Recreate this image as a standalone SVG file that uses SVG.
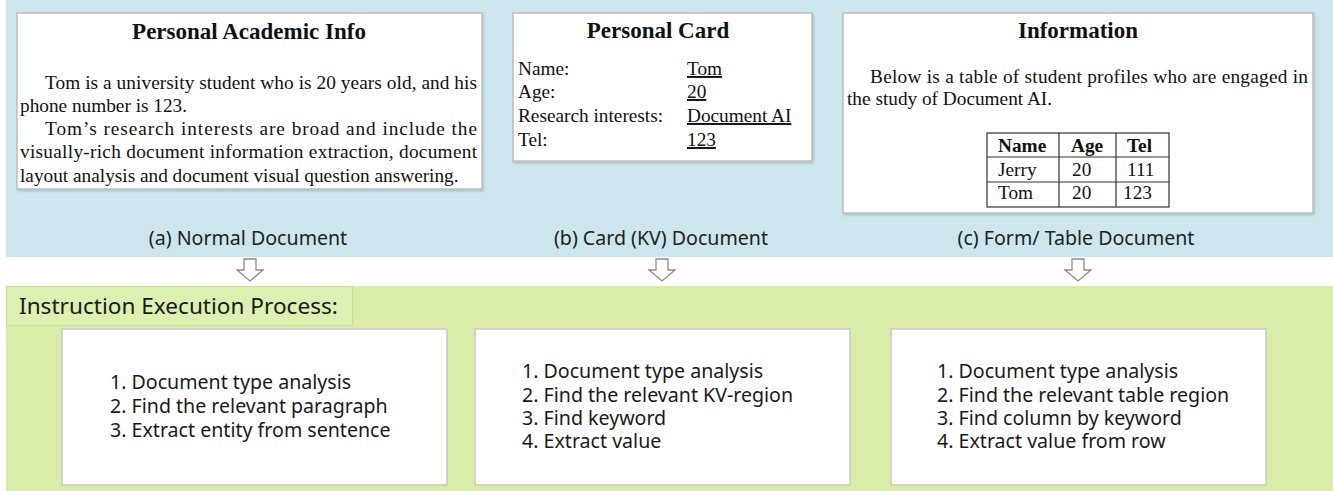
<svg xmlns="http://www.w3.org/2000/svg" width="1333" height="491" viewBox="0 0 1333 491">
<style>
.doc{fill:#fff;stroke:#bdbdbd;stroke-width:1.5}
.serif{font-family:"Liberation Serif","Times New Roman",serif;fill:#111}
.ttl{font-size:23px;font-weight:bold;text-anchor:middle}
.p{font-size:19.3px}
.lab{font-family:"Noto Sans","Open Sans",sans-serif;font-size:19.6px;fill:#222;text-anchor:middle}
.step{font-family:"Noto Sans","Open Sans",sans-serif;font-size:19.6px;fill:#1a1a1a}
.ibox{fill:#fff;stroke:#c8c8c8;stroke-width:1.5}
.arrow{fill:#fff;stroke:#8a8a8a;stroke-width:1.3}
.tb{fill:none;stroke:#333;stroke-width:1.2}
.u{text-decoration:underline}
</style>
<defs>
<filter id="sh" x="-5%" y="-5%" width="110%" height="115%">
<feDropShadow dx="1" dy="1.5" stdDeviation="0.8" flood-color="#000" flood-opacity="0.18"/>
</filter>
<path id="arr" d="M-6,0 H6 V11 H13 L0,22 L-13,11 H-6 Z"/>
</defs>
<rect x="0" y="0" width="1333" height="491" fill="#fff"/>
<rect id="topband" x="6" y="0" width="1327" height="257" fill="#cde6ed"/>
<rect id="bottomband" x="6" y="286" width="1327" height="205" fill="#d9eda9"/>

<g id="doc-a">
<rect class="doc" x="17" y="13" width="465" height="176" filter="url(#sh)"/>
<text class="serif ttl" x="249" y="39">Personal Academic Info</text>
<text class="serif p" x="45" y="89" textLength="432" lengthAdjust="spacing">Tom is a university student who is 20 years old, and his</text>
<text class="serif p" x="20" y="112">phone number is 123.</text>
<text class="serif p" x="45" y="135" textLength="432" lengthAdjust="spacing">Tom’s research interests are broad and include the</text>
<text class="serif p" x="20" y="158" textLength="457" lengthAdjust="spacing">visually-rich document information extraction, document</text>
<text class="serif p" x="20" y="182">layout analysis and document visual question answering.</text>
</g>

<g id="doc-b">
<rect class="doc" x="513" y="13" width="299" height="148" filter="url(#sh)"/>
<text class="serif ttl" x="658" y="38">Personal Card</text>
<text class="serif p" x="518" y="75">Name:</text>
<text class="serif p" x="518" y="98">Age:</text>
<text class="serif p" x="518" y="122">Research interests:</text>
<text class="serif p" x="518" y="146">Tel:</text>
<text class="serif p u" x="687" y="75">Tom</text>
<text class="serif p u" x="687" y="98">20</text>
<text class="serif p u" x="687" y="122">Document AI</text>
<text class="serif p u" x="687" y="146">123</text>
</g>

<g id="doc-c">
<rect class="doc" x="843" y="13" width="470" height="200" filter="url(#sh)"/>
<text class="serif ttl" x="1078" y="38">Information</text>
<text class="serif p" x="870" y="83" textLength="438" lengthAdjust="spacing">Below is a table of student profiles who are engaged in</text>
<text class="serif p" x="847" y="105">the study of Document AI.</text>
<g id="table">
<rect class="tb" x="987" y="133" width="182" height="74"/>
<line class="tb" x1="987" y1="157" x2="1169" y2="157"/>
<line class="tb" x1="987" y1="182" x2="1169" y2="182"/>
<line class="tb" x1="1059" y1="133" x2="1059" y2="207"/>
<line class="tb" x1="1116" y1="133" x2="1116" y2="207"/>
<text class="serif p" x="998" y="152" font-weight="bold">Name</text>
<text class="serif p" x="1071" y="152" font-weight="bold">Age</text>
<text class="serif p" x="1127" y="152" font-weight="bold">Tel</text>
<text class="serif p" x="998" y="176">Jerry</text>
<text class="serif p" x="1072" y="176">20</text>
<text class="serif p" x="1127" y="176">111</text>
<text class="serif p" x="998" y="199">Tom</text>
<text class="serif p" x="1072" y="199">20</text>
<text class="serif p" x="1123" y="199">123</text>
</g>
</g>

<g id="labels">
<text class="lab" x="248" y="245">(a) Normal Document</text>
<text class="lab" x="661" y="245">(b) Card (KV) Document</text>
<text class="lab" x="1076" y="245">(c) Form/ Table Document</text>
</g>

<g id="connectors">
<use href="#arr" class="arrow" x="250" y="259"/>
<use href="#arr" class="arrow" x="662" y="259"/>
<use href="#arr" class="arrow" x="1078" y="259"/>
</g>

<g id="process-title">
<rect x="6.5" y="286.5" width="346" height="39" fill="#dcf0b2" stroke="#c6dd9c" stroke-width="1.2"/>
<text x="19" y="314" font-family="Noto Sans, Open Sans, sans-serif" font-size="22.6px" fill="#1a1a1a">Instruction Execution Process:</text>
</g>

<g id="steps-a">
<rect class="ibox" x="62" y="329" width="385" height="156"/>
<text class="step" x="110" y="389">1. Document type analysis</text>
<text class="step" x="110" y="413">2. Find the relevant paragraph</text>
<text class="step" x="110" y="437">3. Extract entity from sentence</text>
</g>

<g id="steps-b">
<rect class="ibox" x="475" y="329" width="375" height="156"/>
<text class="step" x="522" y="378">1. Document type analysis</text>
<text class="step" x="522" y="402">2. Find the relevant KV-region</text>
<text class="step" x="522" y="425">3. Find keyword</text>
<text class="step" x="522" y="448">4. Extract value</text>
</g>

<g id="steps-c">
<rect class="ibox" x="891" y="329" width="375" height="156"/>
<text class="step" x="937" y="378">1. Document type analysis</text>
<text class="step" x="937" y="402">2. Find the relevant table region</text>
<text class="step" x="937" y="425">3. Find column by keyword</text>
<text class="step" x="937" y="448">4. Extract value from row</text>
</g>
</svg>
